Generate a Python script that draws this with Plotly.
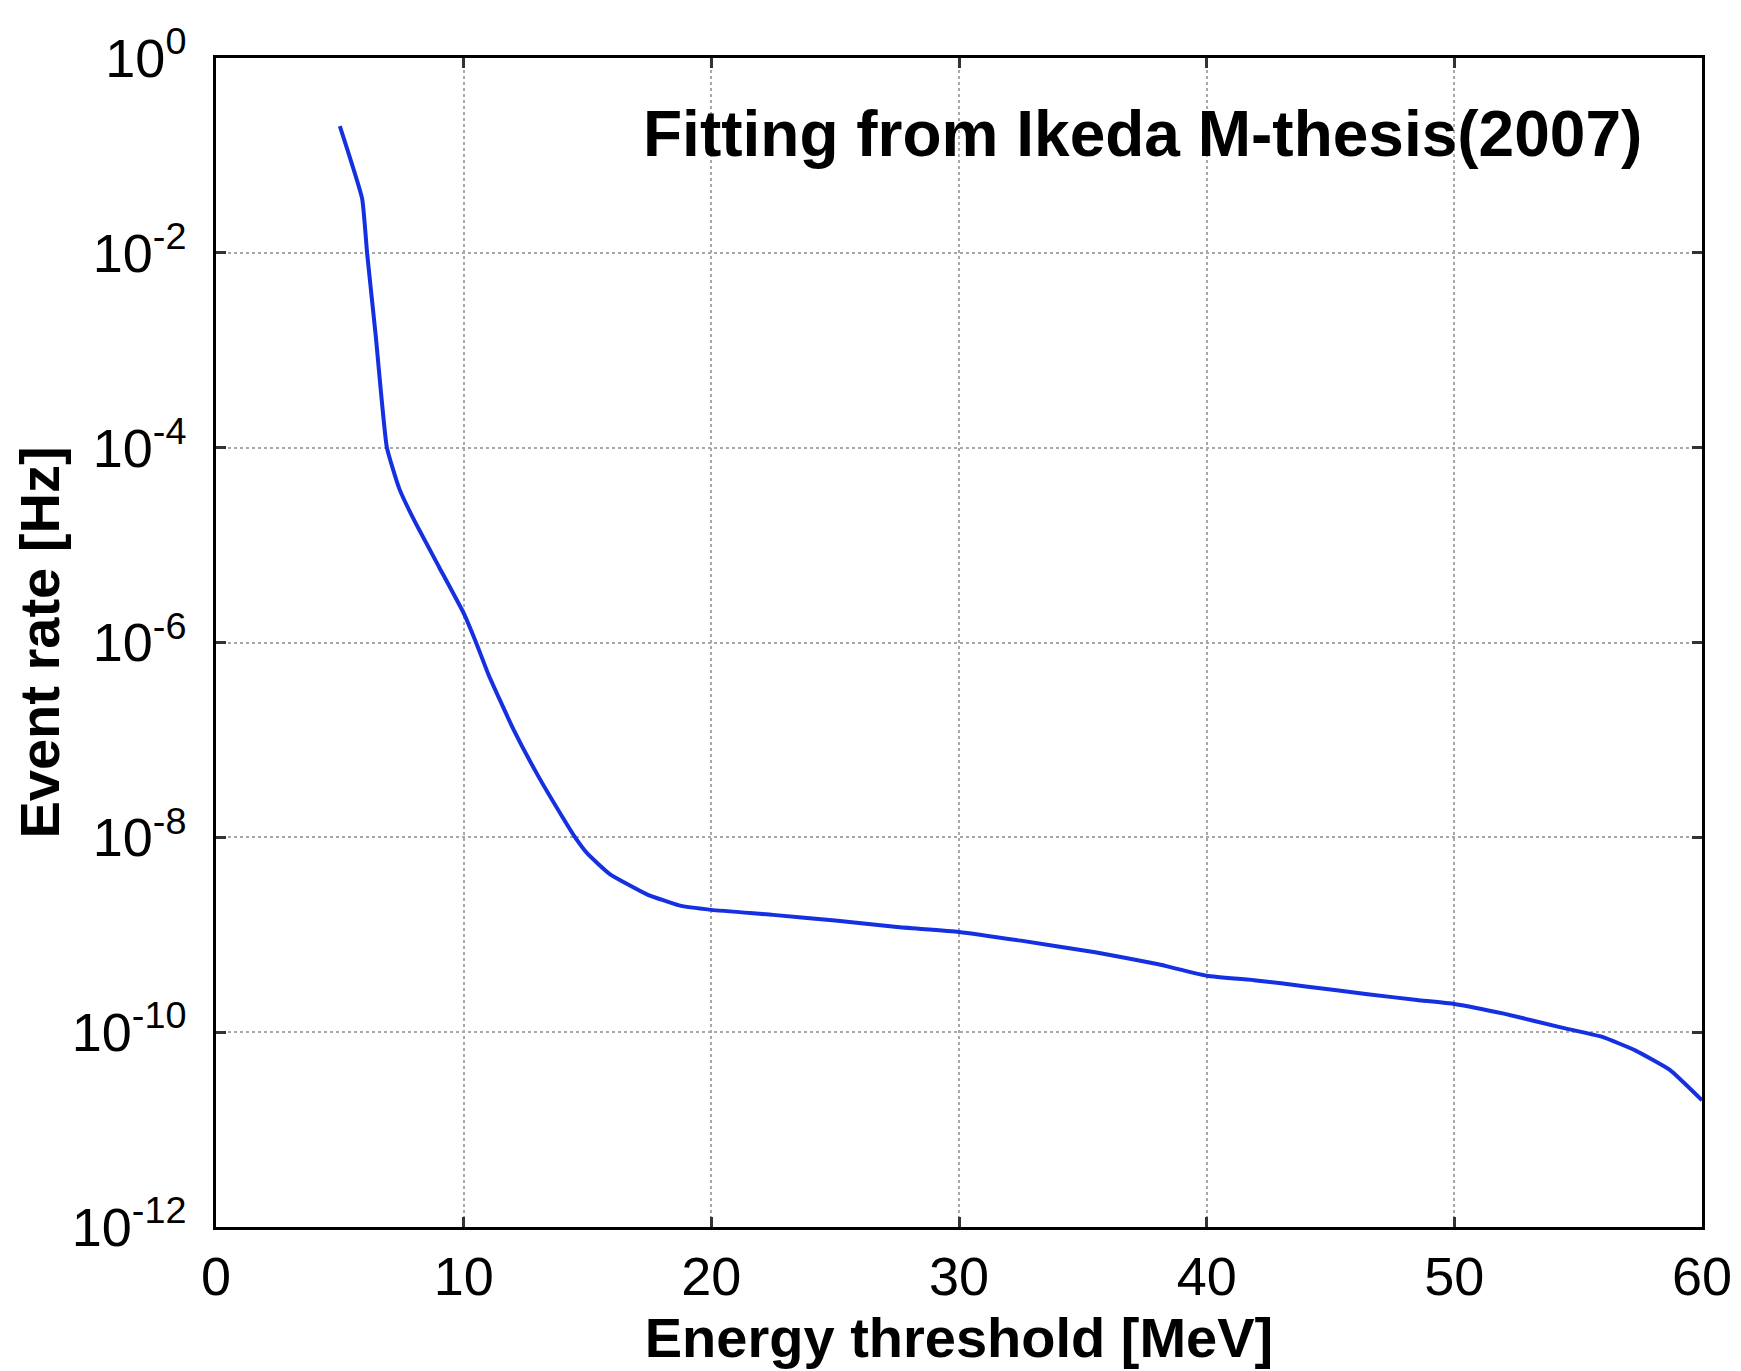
import plotly.graph_objects as go

# Energy threshold [MeV]
energy = [5.0, 5.9, 6.1, 6.45, 6.9, 7.4, 8.0, 9.0, 10.0, 10.5, 11.0, 12.0, 13.0, 14.0, 14.5,
          15.0, 15.9, 17.4, 18.7, 20.0, 22.5, 25.0, 27.5, 30.0, 32.5, 35.5, 38.0, 40.0, 42.0,
          44.0, 46.5, 48.5, 50.0, 52.0, 54.3, 56.0, 57.3, 58.7, 60.0]
# Event rate [Hz]
rate = [2.0e-1, 3.6e-2, 1.0e-2, 1.4e-3, 1.0e-4, 3.8e-5, 1.8e-5, 6.0e-6, 2.0e-6, 1.0e-6,
        4.7e-7, 1.3e-7, 4.3e-8, 1.6e-8, 1.0e-8, 6.8e-9, 4.2e-9, 2.6e-9, 2.0e-9, 1.8e-9,
        1.6e-9, 1.4e-9, 1.2e-9, 1.07e-9, 8.7e-10, 6.6e-10, 5.0e-10, 3.8e-10, 3.4e-10,
        2.95e-10, 2.45e-10, 2.14e-10, 1.95e-10, 1.55e-10, 1.12e-10, 8.9e-11, 6.5e-11,
        4.1e-11, 2.0e-11]

x_ticks = [0, 10, 20, 30, 40, 50, 60]
y_tick_vals = [1e0, 1e-2, 1e-4, 1e-6, 1e-8, 1e-10, 1e-12]
y_tick_text = ["10<sup>0</sup>", "10<sup>-2</sup>", "10<sup>-4</sup>", "10<sup>-6</sup>",
               "10<sup>-8</sup>", "10<sup>-10</sup>", "10<sup>-12</sup>"]

FONT = "Liberation Sans, Arial, Helvetica, sans-serif"

fig = go.Figure()
fig.add_trace(go.Scatter(x=energy, y=rate, mode="lines", line_shape="spline",
                         line=dict(color="#1530e0", width=4, smoothing=0.4),
                         showlegend=False))

axis_common = dict(
    showline=True, linecolor="black", linewidth=2.5, mirror="allticks",
    ticks="inside", ticklen=10, tickwidth=2.5, tickcolor="#333333",
    showgrid=True, gridcolor="#a8a8a8", griddash="dot", gridwidth=1.5,
    zeroline=False,
    tickfont=dict(family=FONT, size=54, color="black"),
)

fig.update_xaxes(range=[0, 60], tickvals=x_ticks,
                 title=dict(text="<b>Energy threshold [MeV]</b>",
                            font=dict(family=FONT, size=56, color="black"), standoff=14),
                 **axis_common)
fig.update_yaxes(type="log", range=[-12, 0], tickvals=y_tick_vals, ticktext=y_tick_text,
                 ticklabelstandoff=16,
                 title=dict(text="<b>Event rate [Hz]</b>",
                            font=dict(family=FONT, size=56, color="black"), standoff=0),
                 **axis_common)

fig.add_annotation(text="<b>Fitting from Ikeda M-thesis(2007)</b>",
                   xref="paper", yref="paper", x=0.961, y=0.935,
                   xanchor="right", yanchor="middle", showarrow=False,
                   font=dict(family=FONT, size=64, color="black"))

# page body has an 8px margin, so margins are offset by it
fig.update_layout(
    width=1741, height=1371,
    margin=dict(l=208, r=47, t=44, b=152),
    paper_bgcolor="white", plot_bgcolor="white",
)

fig.write_html("out.html")
